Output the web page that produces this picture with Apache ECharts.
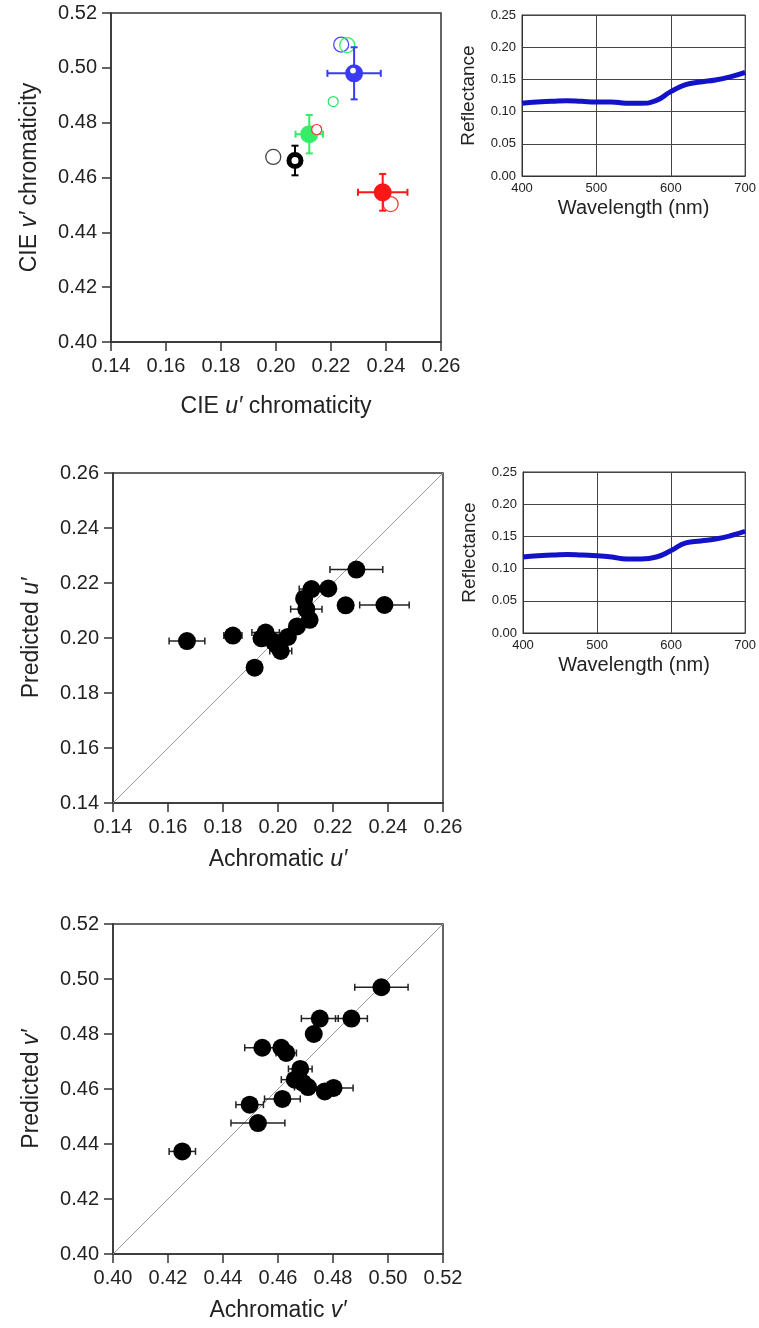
<!DOCTYPE html>
<html>
<head>
<meta charset="utf-8">
<script src="https://cdn.jsdelivr.net/npm/echarts@6/dist/echarts.min.js"></script>
<style>
html, body { margin: 0; padding: 0; background: #fff; }
#chart { width: 759px; height: 1328px; }
</style>
</head>
<body>
<div id="chart"></div>
<script>
// top left panel: measured means (filled, with error bars) and predictions (open)
const meanU = [0.2284, 0.2121, 0.2388, 0.2069];
const meanV = [0.4980, 0.4758, 0.4546, 0.4662];
const meanErrU = [0.0097, 0.0050, 0.0090, 0.0015];
const meanErrV = [0.0095, 0.0070, 0.0067, 0.0054];
const openBigU = [0.2237, 0.2259, 0.1990, 0.2417];
const openBigV = [0.5085, 0.5083, 0.4675, 0.4503];
const openSmallU = [0.2208, 0.2148, 0.2280];
const openSmallV = [0.4877, 0.4775, 0.4990];

// reflectance spectra (right column)
const wavelengths = [400, 420, 440, 460, 480, 500, 520, 540, 560, 580, 600, 620, 640, 660, 680, 700];
const reflTop = [0.113, 0.115, 0.116, 0.117, 0.116, 0.115, 0.115, 0.113, 0.113, 0.117, 0.131, 0.142, 0.146, 0.149, 0.154, 0.161];
const reflMid = [0.118, 0.120, 0.121, 0.122, 0.121, 0.120, 0.118, 0.115, 0.115, 0.118, 0.128, 0.140, 0.143, 0.146, 0.151, 0.158];

// achromatic u' vs predicted u'
const achromU = [0.2285, 0.2183, 0.2122, 0.2095, 0.2103, 0.2246, 0.2387, 0.2115, 0.2069, 0.1669, 0.1836, 0.1955, 0.1940, 0.2036, 0.2010, 0.1915, 0.1985, 0.2000];
const predU = [0.2249, 0.2180, 0.2178, 0.2143, 0.2105, 0.2119, 0.2120, 0.2066, 0.2042, 0.1989, 0.2009, 0.2020, 0.1999, 0.2004, 0.1953, 0.1892, 0.1986, 0.1970];
const achromUErr = [0.0096, 0, 0.0045, 0, 0.0057, 0, 0.0090, 0, 0, 0.0065, 0.0033, 0.0050, 0, 0, 0.0040, 0, 0, 0];

// achromatic v' vs predicted v'
const achromV = [0.4976, 0.4867, 0.4752, 0.4730, 0.4543, 0.4612, 0.4630, 0.4681, 0.4661, 0.4691, 0.4709, 0.4770, 0.4802, 0.4616, 0.4497, 0.4527, 0.4252];
const predV = [0.4970, 0.4856, 0.4856, 0.4800, 0.4750, 0.4750, 0.4731, 0.4673, 0.4634, 0.4622, 0.4607, 0.4591, 0.4604, 0.4564, 0.4543, 0.4476, 0.4373];
const achromVErr = [0.0097, 0.0058, 0.0067, 0, 0.0064, 0, 0.0037, 0.0043, 0.0049, 0, 0.0049, 0, 0.0071, 0.0065, 0.0050, 0.0098, 0.0048];

const uRange = [0.14, 0.26];
const vRange = [0.40, 0.52];

const FONT = '"Liberation Sans", Arial, Helvetica, sans-serif';
const meanColors = ['#3a3af5', '#33ee66', '#ff1616', '#000'];
const openBigColors = ['#4a4aff', '#33ee66', '#444', '#ff3b3b'];
const openSmallColors = ['#33dd66', '#ff3030', '#3a3af5'];

function squareAxis(grid, range, name, nameGap) {
    return {
        type: 'value', gridIndex: grid,
        min: range[0], max: range[1], interval: 0.02,
        axisLine: { show: true, onZero: false, lineStyle: { color: '#333', width: 1.5 } },
        axisTick: { show: true, inside: false, length: 9, lineStyle: { color: '#333', width: 1.5 } },
        axisLabel: { fontSize: 20, color: '#222', margin: 14, fontFamily: FONT,
            formatter: v => v.toFixed(2) },
        splitLine: { show: false },
        name: name, nameLocation: 'middle', nameGap: nameGap,
        nameTextStyle: { fontSize: 23, color: '#222', fontFamily: FONT,
            rich: { i: { fontSize: 23, fontStyle: 'italic', color: '#222', fontFamily: FONT } } }
    };
}

function reflAxisX(grid) {
    return {
        type: 'value', gridIndex: grid, min: 400, max: 700, interval: 100,
        axisLine: { show: true, lineStyle: { color: '#333' } },
        axisTick: { show: false },
        axisLabel: { fontSize: 13, color: '#222', margin: 6, fontFamily: FONT },
        splitLine: { show: true, lineStyle: { color: '#444', width: 1 } },
        name: 'Wavelength (nm)', nameLocation: 'middle', nameGap: 22,
        nameTextStyle: { fontSize: 20, color: '#222', fontFamily: FONT }
    };
}

function reflAxisY(grid) {
    return {
        type: 'value', gridIndex: grid, min: 0, max: 0.25, interval: 0.05,
        axisLine: { show: true, lineStyle: { color: '#333' } },
        axisTick: { show: false },
        axisLabel: { fontSize: 13, color: '#222', margin: 6, fontFamily: FONT,
            formatter: v => v.toFixed(2) },
        splitLine: { show: true, lineStyle: { color: '#444', width: 1 } },
        name: 'Reflectance', nameLocation: 'middle', nameGap: 44,
        nameTextStyle: { fontSize: 19, color: '#222', fontFamily: FONT }
    };
}

// error bars with little caps, drawn through the axis scales
function errorBars(axis, pts, colors, lw, cap) {
    return {
        type: 'custom', xAxisIndex: axis, yAxisIndex: axis, z: 3,
        encode: { x: 0, y: 1 },
        data: pts,
        renderItem: function (params, api) {
            const x = api.value(0), y = api.value(1), ex = api.value(2), ey = api.value(3);
            const style = { stroke: colors[params.dataIndex % colors.length], lineWidth: lw, fill: null };
            const kids = [];
            const seg = (x1, y1, x2, y2) => kids.push({ type: 'line', shape: { x1, y1, x2, y2 }, style });
            if (ex > 0) {
                const a = api.coord([x - ex, y]), b = api.coord([x + ex, y]);
                seg(a[0], a[1], b[0], b[1]);
                seg(a[0], a[1] - cap, a[0], a[1] + cap);
                seg(b[0], b[1] - cap, b[0], b[1] + cap);
            }
            if (ey > 0) {
                const a = api.coord([x, y - ey]), b = api.coord([x, y + ey]);
                seg(a[0], a[1], b[0], b[1]);
                seg(a[0] - cap, a[1], a[0] + cap, a[1]);
                seg(b[0] - cap, b[1], b[0] + cap, b[1]);
            }
            return { type: 'group', children: kids };
        }
    };
}

const meanPts = meanU.map((u, i) => [u, meanV[i], meanErrU[i], meanErrV[i]]);
const uPts = achromU.map((u, i) => [u, predU[i], achromUErr[i], 0]);
const vPts = achromV.map((v, i) => [v, predV[i], achromVErr[i], 0]);

const chart = echarts.init(document.getElementById('chart'));
chart.setOption({
    animation: false,
    backgroundColor: '#fff',
    textStyle: { fontFamily: FONT },
    grid: [
        { left: 111, top: 13, width: 330, height: 329, show: true, borderColor: '#333', borderWidth: 1.5 },
        { left: 522, top: 15, width: 225, height: 161, show: true, borderColor: '#333', borderWidth: 1 },
        { left: 113, top: 473, width: 330, height: 330, show: true, borderColor: '#333', borderWidth: 1.5 },
        { left: 523, top: 472, width: 226, height: 161, show: true, borderColor: '#333', borderWidth: 1 },
        { left: 113, top: 924, width: 330, height: 330, show: true, borderColor: '#333', borderWidth: 1.5 }
    ],
    xAxis: [
        squareAxis(0, uRange, 'CIE {i|u′} chromaticity', 53),
        reflAxisX(1),
        squareAxis(2, uRange, 'Achromatic {i|u′}', 45),
        reflAxisX(3),
        squareAxis(4, vRange, 'Achromatic {i|v′}', 45)
    ],
    yAxis: [
        squareAxis(0, vRange, 'CIE {i|v′} chromaticity', 70),
        reflAxisY(1),
        squareAxis(2, uRange, 'Predicted {i|u′}', 70),
        reflAxisY(3),
        squareAxis(4, vRange, 'Predicted {i|v′}', 70)
    ],
    series: [
        // panel 1
        {
            type: 'scatter', xAxisIndex: 0, yAxisIndex: 0, z: 2, symbol: 'circle', symbolSize: 15,
            data: openBigU.map((u, i) => ({ value: [u, openBigV[i]],
                itemStyle: { color: 'rgba(255,255,255,0)', borderColor: openBigColors[i], borderWidth: 1.3, opacity: 1 } }))
        },
        errorBars(0, meanPts, meanColors, 2, 3.5),
        {
            type: 'scatter', xAxisIndex: 0, yAxisIndex: 0, z: 4, symbol: 'circle', symbolSize: 18,
            data: meanU.map((u, i) => ({ value: [u, meanV[i]],
                itemStyle: i === 3
                    ? { color: '#fff', borderColor: '#000', borderWidth: 5, opacity: 1 }
                    : { color: meanColors[i], opacity: 1 },
                symbolSize: i === 3 ? 12 : 18 }))
        },
        {
            type: 'scatter', xAxisIndex: 0, yAxisIndex: 0, z: 5, symbol: 'circle', symbolSize: 10,
            data: openSmallU.map((u, i) => ({ value: [u, openSmallV[i]],
                itemStyle: { color: '#fff', borderColor: openSmallColors[i], borderWidth: 1.2, opacity: 1 },
                symbolSize: i === 2 ? 7 : 10 }))
        },
        // reflectance spectra
        {
            type: 'line', xAxisIndex: 1, yAxisIndex: 1, smooth: true, symbol: 'none',
            lineStyle: { color: '#1212c8', width: 5 },
            data: wavelengths.map((w, i) => [w, reflTop[i]])
        },
        {
            type: 'line', xAxisIndex: 3, yAxisIndex: 3, smooth: true, symbol: 'none',
            lineStyle: { color: '#1212c8', width: 5 },
            data: wavelengths.map((w, i) => [w, reflMid[i]])
        },
        // u' panel
        {
            type: 'line', xAxisIndex: 2, yAxisIndex: 2, symbol: 'none', z: 1,
            lineStyle: { color: '#999', width: 1 },
            data: [[uRange[0], uRange[0]], [uRange[1], uRange[1]]]
        },
        errorBars(2, uPts, ['#222'], 1.5, 3.5),
        {
            type: 'scatter', xAxisIndex: 2, yAxisIndex: 2, z: 4, symbol: 'circle', symbolSize: 18,
            itemStyle: { color: '#000', opacity: 1 },
            data: achromU.map((u, i) => [u, predU[i]])
        },
        // v' panel
        {
            type: 'line', xAxisIndex: 4, yAxisIndex: 4, symbol: 'none', z: 1,
            lineStyle: { color: '#999', width: 1 },
            data: [[vRange[0], vRange[0]], [vRange[1], vRange[1]]]
        },
        errorBars(4, vPts, ['#222'], 1.5, 3.5),
        {
            type: 'scatter', xAxisIndex: 4, yAxisIndex: 4, z: 4, symbol: 'circle', symbolSize: 18,
            itemStyle: { color: '#000', opacity: 1 },
            data: achromV.map((v, i) => [v, predV[i]])
        }
    ]
});
</script>
</body>
</html>
